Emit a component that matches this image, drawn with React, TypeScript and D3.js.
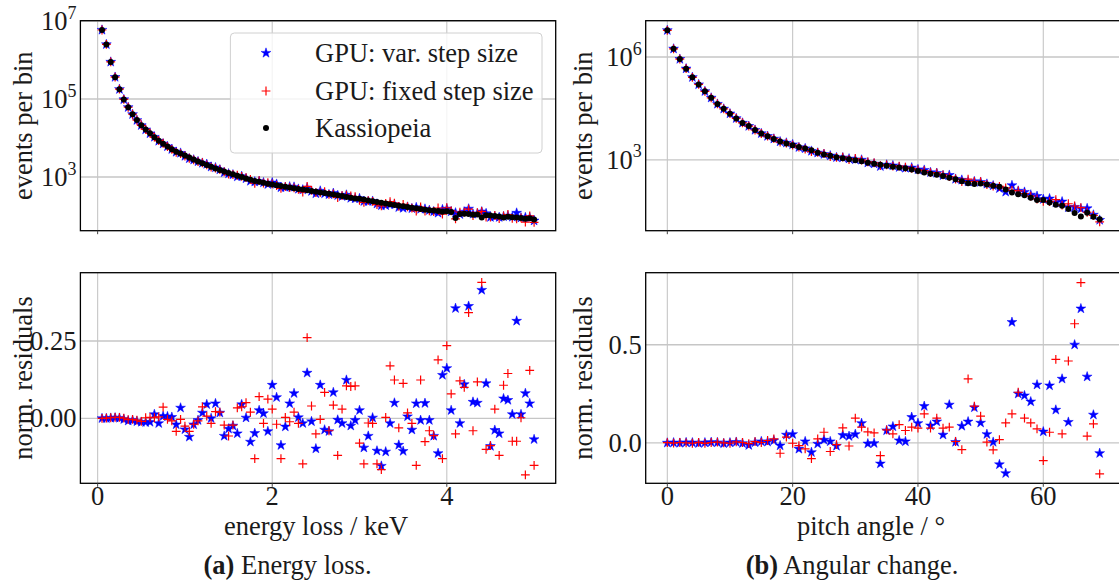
import React from "react";
import * as d3 from "d3";

// ---------------- data ----------------
const energyLossKeV = d3.range(1, 101).map((i) => +(i * 0.05).toFixed(2));
const pitchAngleDeg = d3.range(0, 70);

// Kassiopeia events per bin (log10), energy loss
const kassEnergyLog10 = [
  6.77, 6.40, 5.95, 5.56, 5.25, 4.99, 4.79, 4.61, 4.46, 4.33,
  4.22, 4.12, 4.02, 3.93, 3.85, 3.78, 3.71, 3.65, 3.60, 3.55,
  3.50, 3.45, 3.40, 3.35, 3.31, 3.26, 3.22, 3.18, 3.14, 3.10,
  3.07, 3.03, 3.00, 2.96, 2.93, 2.90, 2.88, 2.85, 2.83, 2.81,
  2.79, 2.77, 2.75, 2.73, 2.71, 2.69, 2.68, 2.66, 2.64, 2.62,
  2.60, 2.59, 2.57, 2.55, 2.53, 2.51, 2.49, 2.47, 2.45, 2.44,
  2.42, 2.40, 2.38, 2.36, 2.34, 2.32, 2.30, 2.28, 2.26, 2.25,
  2.23, 2.21, 2.20, 2.18, 2.16, 2.15, 2.14, 2.13, 2.11, 2.12,
  2.10, 1.95, 2.05, 2.06, 2.05, 2.03, 2.04, 1.96, 2.02, 2.01,
  2.00, 1.99, 1.96, 1.98, 1.97, 1.96, 1.95, 1.93, 1.94, 1.91,
];

// normalised residuals, energy loss
const varResEnergy = [
  0.000, 0.000, 0.001, 0.002, 0.001, -0.003, -0.008, -0.006, -0.010, -0.012,
  -0.013, -0.012, 0.013, -0.016, 0.007, 0.006, 0.004, -0.020, 0.034, -0.036,
  -0.060, -0.020, -0.006, 0.018, 0.045, 0.000, 0.048, 0.018, -0.057, -0.034,
  -0.024, -0.049, 0.045, 0.002, -0.076, -0.048, 0.026, 0.016, -0.042, 0.108,
  0.068, -0.087, -0.027, 0.048, 0.081, 0.003, -0.016, 0.147, -0.010, -0.098,
  0.108, -0.037, -0.042, 0.084, -0.005, -0.016, 0.124, -0.024, -0.006, 0.026,
  -0.095, -0.057, 0.002, -0.105, -0.154, -0.108, -0.016, 0.050, -0.086, -0.106,
  0.006, -0.037, 0.048, -0.006, 0.049, -0.006, -0.057, -0.113, 0.140, 0.162,
  0.026, 0.356, -0.016, 0.110, 0.363, 0.053, 0.050, 0.415, 0.113, -0.090,
  -0.038, -0.049, 0.064, 0.059, 0.013, 0.315, 0.013, 0.081, 0.048, -0.068,
];
const fixResEnergy = [
  0.000, 0.001, 0.002, 0.003, 0.003, 0.001, -0.004, -0.003, -0.006, -0.010,
  0.002, 0.003, 0.002, 0.005, 0.036, -0.003, -0.008, -0.042, -0.003, -0.025,
  -0.042, -0.019, -0.008, 0.037, 0.007, -0.016, 0.022, 0.020, -0.022, -0.057,
  -0.022, 0.034, 0.037, 0.051, 0.020, -0.130, 0.070, -0.016, 0.062, 0.030,
  -0.019, -0.130, 0.003, -0.011, 0.020, -0.016, -0.147, 0.261, 0.040, -0.050,
  -0.003, 0.084, -0.040, 0.043, -0.120, 0.030, 0.105, 0.103, 0.105, -0.080,
  -0.147, -0.015, -0.016, -0.147, -0.166, 0.003, 0.170, 0.124, -0.031, 0.113,
  0.018, -0.016, -0.152, 0.124, -0.075, -0.040, -0.056, 0.189, -0.130, 0.235,
  0.079, -0.050, 0.121, 0.100, 0.342, -0.040, 0.118, 0.440, -0.100, -0.088,
  0.030, -0.120, 0.107, 0.145, -0.074, -0.074, 0.002, -0.183, 0.155, -0.152,
];

// Kassiopeia events per bin (log10), pitch angle
const kassAngleLog10 = [
  6.78, 6.24, 5.94, 5.66, 5.41, 5.20, 5.00, 4.81, 4.63, 4.49,
  4.35, 4.21, 4.08, 3.99, 3.87, 3.77, 3.69, 3.61, 3.54, 3.48,
  3.43, 3.38, 3.33, 3.28, 3.21, 3.16, 3.12, 3.08, 3.05, 3.02,
  2.99, 2.96, 2.92, 2.89, 2.86, 2.83, 2.80, 2.78, 2.76, 2.72,
  2.68, 2.63, 2.60, 2.57, 2.53, 2.48, 2.44, 2.38, 2.32, 2.30,
  2.31, 2.28, 2.25, 2.22, 2.14, 2.05, 2.00, 1.97, 1.90, 1.83,
  1.83, 1.76, 1.69, 1.66, 1.57, 1.45, 1.35, 1.46, 1.34, 1.27,
];
const varResAngle = [
  0.000, 0.001, -0.001, 0.002, 0.001, -0.002, 0.001, 0.003, 0.002, -0.003,
  0.001, 0.004, -0.002, -0.012, 0.002, 0.007, 0.005, 0.012, -0.014, 0.041,
  0.044, -0.031, 0.007, -0.048, -0.005, 0.015, 0.007, -0.016, 0.039, 0.034,
  0.044, 0.100, -0.004, -0.002, -0.106, 0.063, 0.083, 0.012, 0.007, 0.131,
  0.100, 0.187, 0.088, 0.108, 0.041, 0.194, 0.004, 0.086, 0.108, 0.180,
  0.102, 0.044, 0.004, -0.110, -0.155, 0.615, 0.250, 0.241, 0.210, 0.296,
  0.057, 0.292, 0.168, 0.326, 0.106, 0.500, 0.684, 0.337, 0.143, -0.053,
];
const fixResAngle = [
  0.001, -0.001, 0.002, 0.000, -0.002, 0.003, -0.003, 0.002, 0.004, 0.000,
  -0.002, 0.005, 0.002, -0.004, 0.006, 0.002, 0.012, 0.020, -0.053, 0.029,
  -0.002, -0.014, -0.031, -0.080, 0.020, 0.054, -0.044, -0.009, 0.076, -0.016,
  0.126, 0.080, 0.056, 0.051, -0.065, 0.066, 0.046, 0.093, 0.063, 0.080,
  0.075, 0.148, 0.075, 0.126, 0.075, 0.080, 0.007, -0.034, 0.326, 0.187,
  0.136, 0.004, -0.036, 0.017, 0.102, 0.148, 0.258, 0.126, 0.102, 0.071,
  -0.090, 0.054, 0.425, 0.046, 0.417, 0.607, 0.816, 0.034, 0.097, -0.158,
];

const legendLabels = ["GPU: var. step size", "GPU: fixed step size", "Kassiopeia"];
const energyTicks = [0, 2, 4];
const angleTicks = [0, 20, 40, 60];
const energyCountExp = [3, 5, 7];
const angleCountExp = [3, 6];
const energyResTicks = [0, 0.25];
const angleResTicks = [0, 0.5];
const captions = [
  { tag: "(a)", text: " Energy loss." },
  { tag: "(b)", text: " Angular change." },
];

// ---------------- layout ----------------
const W = 1119;
const H = 586;
const FONT = '"Liberation Serif", "DejaVu Serif", serif';
const FS = 26.5;
const BLUE = "#0000ff";
const RED = "#ff0000";
const GRID = "#c6c6c6";
const TXT = "#1a1a1a";

const COLS = [
  { l: 80.4, r: 555.7 },
  { l: 645.7, r: 1121.3 },
];
const ROWS = [
  { t: 20.7, b: 230.7 },
  { t: 272.7, b: 483.3 },
];

const starPath = d3.symbol(d3.symbolStar, 30)() as string;
const textStyle: React.CSSProperties = { fontFamily: FONT };

type Pt = { x: number; y: number };

function Star({ x, y }: Pt) {
  return <path d={starPath} transform={`translate(${x},${y})`} fill={BLUE} stroke={BLUE} strokeWidth={0.5} />;
}
function Plus({ x, y }: Pt) {
  const s = 4.4;
  return (
    <path
      d={`M${x - s},${y}H${x + s}M${x},${y - s}V${y + s}`}
      stroke={RED}
      strokeWidth={1.2}
      fill="none"
    />
  );
}
function Dot({ x, y }: Pt) {
  return <circle cx={x} cy={y} r={3} fill="#000" />;
}

type PanelProps = {
  id: string;
  col: { l: number; r: number };
  row: { t: number; b: number };
  xScale: d3.ScaleLinear<number, number>;
  yScale: any;
  xTicks: number[];
  yTicks: number[];
  yTickLabel: (v: number) => React.ReactNode;
  showXLabels: boolean;
  children: React.ReactNode;
};

function Panel({ id, col, row, xScale, yScale, xTicks, yTicks, yTickLabel, showXLabels, children }: PanelProps) {
  return (
    <g>
      <defs>
        <clipPath id={id}>
          <rect x={col.l} y={row.t} width={col.r - col.l} height={row.b - row.t} />
        </clipPath>
      </defs>
      {xTicks.map((t) => (
        <line key={"gx" + t} x1={xScale(t)} x2={xScale(t)} y1={row.t} y2={row.b} stroke={GRID} strokeWidth={1.1} />
      ))}
      {yTicks.map((t) => (
        <line key={"gy" + t} x1={col.l} x2={col.r} y1={yScale(t)} y2={yScale(t)} stroke={GRID} strokeWidth={1.4} />
      ))}
      <g clipPath={`url(#${id})`}>{children}</g>
      <rect x={col.l} y={row.t} width={col.r - col.l} height={row.b - row.t} fill="none" stroke="#000" strokeWidth={1.3} />
      {xTicks.map((t) => (
        <line key={"tx" + t} x1={xScale(t)} x2={xScale(t)} y1={row.b} y2={row.b + 3.5} stroke="#444" strokeWidth={1} />
      ))}
      {showXLabels &&
        xTicks.map((t) => (
          <text key={"lx" + t} x={xScale(t)} y={row.b + 21.5} textAnchor="middle" fontSize={FS} fill={TXT} style={textStyle}>
            {t}
          </text>
        ))}
      {yTicks.map((t) => (
        <text key={"ly" + t} x={col.l - 4} y={yScale(t) + 9} textAnchor="end" fontSize={FS} fill={TXT} style={textStyle}>
          {yTickLabel(t)}
        </text>
      ))}
    </g>
  );
}

function powLabel(e: number) {
  return (
    <>
      <tspan>10</tspan>
      <tspan dy={-11.5} fontSize={18}>
        {e}
      </tspan>
    </>
  );
}

export default function App() {
  const xE = d3.scaleLinear().domain([-0.1975, 5.2475]).range([COLS[0].l, COLS[0].r]);
  const xA = d3.scaleLinear().domain([-3.45, 72.45]).range([COLS[1].l, COLS[1].r]);
  const yEc = d3.scaleLog().domain([Math.pow(10, 1.623), Math.pow(10, 7.008)]).range([ROWS[0].b, ROWS[0].t]);
  const yAc = d3.scaleLog().domain([Math.pow(10, 0.936), Math.pow(10, 7.06)]).range([ROWS[0].b, ROWS[0].t]);
  const yEr = d3.scaleLinear().domain([-0.21, 0.471]).range([ROWS[1].b, ROWS[1].t]);
  const yAr = d3.scaleLinear().domain([-0.206, 0.867]).range([ROWS[1].b, ROWS[1].t]);

  const kassE = kassEnergyLog10.map((v) => Math.pow(10, v));
  const kassA = kassAngleLog10.map((v) => Math.pow(10, v));
  const varE = kassE.map((k, i) => k * (1 + varResEnergy[i]));
  const fixE = kassE.map((k, i) => k * (1 + fixResEnergy[i]));
  const varA = kassA.map((k, i) => k * (1 + varResAngle[i]));
  const fixA = kassA.map((k, i) => k * (1 + fixResAngle[i]));

  const legend = { x: 230.4, y: 33, w: 311.6, h: 120 };
  const legendRows = [53, 91, 128];

  return (
    <svg
      width={W}
      height={H}
      viewBox={`0 0 ${W} ${H}`}
      style={{ position: "absolute", left: 0, top: 0, background: "#fff", fontFamily: FONT }}
    >
      <rect x={0} y={0} width={W} height={H} fill="#fff" />

      <Panel
        id="c0"
        col={COLS[0]}
        row={ROWS[0]}
        xScale={xE}
        yScale={yEc}
        xTicks={energyTicks}
        yTicks={energyCountExp.map((e) => Math.pow(10, e))}
        yTickLabel={(v) => powLabel(Math.round(Math.log10(v)))}
        showXLabels={false}
      >
        {energyLossKeV.map((x, i) => (
          <Star key={"s" + i} x={xE(x)} y={yEc(varE[i])} />
        ))}
        {energyLossKeV.map((x, i) => (
          <Plus key={"p" + i} x={xE(x)} y={yEc(fixE[i])} />
        ))}
        {energyLossKeV.map((x, i) => (
          <Dot key={"d" + i} x={xE(x)} y={yEc(kassE[i])} />
        ))}
      </Panel>

      <g>
        <rect
          x={legend.x}
          y={legend.y}
          width={legend.w}
          height={legend.h}
          rx={4}
          fill="#fff"
          fillOpacity={0.8}
          stroke="#d0d0d0"
          strokeWidth={1}
        />
        <Star x={266} y={legendRows[0]} />
        <Plus x={266} y={legendRows[1]} />
        <Dot x={266} y={legendRows[2]} />
        {legendLabels.map((t, i) => (
          <text key={t} x={315} y={legendRows[i] + 9} fontSize={FS} fill={TXT} style={textStyle}>
            {t}
          </text>
        ))}
      </g>

      <Panel
        id="c1"
        col={COLS[0]}
        row={ROWS[1]}
        xScale={xE}
        yScale={yEr}
        xTicks={energyTicks}
        yTicks={energyResTicks}
        yTickLabel={(v) => v.toFixed(2)}
        showXLabels={true}
      >
        {energyLossKeV.map((x, i) => (
          <Star key={"s" + i} x={xE(x)} y={yEr(varResEnergy[i])} />
        ))}
        {energyLossKeV.map((x, i) => (
          <Plus key={"p" + i} x={xE(x)} y={yEr(fixResEnergy[i])} />
        ))}
      </Panel>

      <Panel
        id="c2"
        col={COLS[1]}
        row={ROWS[0]}
        xScale={xA}
        yScale={yAc}
        xTicks={angleTicks}
        yTicks={angleCountExp.map((e) => Math.pow(10, e))}
        yTickLabel={(v) => powLabel(Math.round(Math.log10(v)))}
        showXLabels={false}
      >
        {pitchAngleDeg.map((x, i) => (
          <Star key={"s" + i} x={xA(x)} y={yAc(varA[i])} />
        ))}
        {pitchAngleDeg.map((x, i) => (
          <Plus key={"p" + i} x={xA(x)} y={yAc(fixA[i])} />
        ))}
        {pitchAngleDeg.map((x, i) => (
          <Dot key={"d" + i} x={xA(x)} y={yAc(kassA[i])} />
        ))}
      </Panel>

      <Panel
        id="c3"
        col={COLS[1]}
        row={ROWS[1]}
        xScale={xA}
        yScale={yAr}
        xTicks={angleTicks}
        yTicks={angleResTicks}
        yTickLabel={(v) => v.toFixed(1)}
        showXLabels={true}
      >
        {pitchAngleDeg.map((x, i) => (
          <Star key={"s" + i} x={xA(x)} y={yAr(varResAngle[i])} />
        ))}
        {pitchAngleDeg.map((x, i) => (
          <Plus key={"p" + i} x={xA(x)} y={yAr(fixResAngle[i])} />
        ))}
      </Panel>

      {COLS.map((c, ci) => (
        <g key={"yl" + ci}>
          <text
            transform={`translate(${ci === 0 ? 23 : 583},${(ROWS[0].t + ROWS[0].b) / 2}) rotate(-90)`}
            textAnchor="middle"
            dominantBaseline="central"
            fontSize={FS}
            fill={TXT}
            style={textStyle}
          >
            events per bin
          </text>
          <text
            transform={`translate(${ci === 0 ? 23 : 583},${(ROWS[1].t + ROWS[1].b) / 2}) rotate(-90)`}
            textAnchor="middle"
            dominantBaseline="central"
            fontSize={FS}
            fill={TXT}
            style={textStyle}
          >
            norm. residuals
          </text>
        </g>
      ))}

      <text x={316} y={535} textAnchor="middle" fontSize={FS} fill={TXT} style={textStyle}>
        energy loss / keV
      </text>
      <text x={871} y={535} textAnchor="middle" fontSize={FS} fill={TXT} style={textStyle}>
        pitch angle / °
      </text>

      {captions.map((c, i) => (
        <text key={c.tag} x={i === 0 ? 287.5 : 852} y={574} textAnchor="middle" fontSize={FS} fill={TXT} style={textStyle}>
          <tspan fontWeight="bold">{c.tag}</tspan>
          <tspan>{c.text}</tspan>
        </text>
      ))}
    </svg>
  );
}
